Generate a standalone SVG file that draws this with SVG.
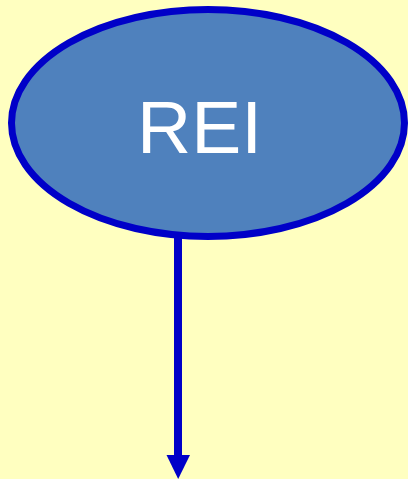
<svg xmlns="http://www.w3.org/2000/svg" width="408" height="479" viewBox="0 0 408 479">
<style>
.node{fill:#4F81BD;stroke:#0000C8;stroke-width:7}
.lbl{fill:#FFFFFF;font-family:"Liberation Sans",Arial,sans-serif;font-size:75px;text-anchor:middle}
.edge{stroke:#0000C8;stroke-width:8;fill:none}
</style>
<defs>
<marker id="ah" markerUnits="userSpaceOnUse" markerWidth="24" markerHeight="24" refX="12" refY="0" orient="auto-start-reverse" viewBox="0 0 24 24" overflow="visible">
<polygon points="0,0 24,0 12,24" fill="#0000C8" transform="rotate(-90 12 0) translate(0 0)"/>
</marker>
</defs>
<rect width="408" height="479" fill="#FFFFC0"/>
<g id="connectors">
<line class="edge" x1="178" y1="236" x2="178" y2="456"/>
<polygon points="166.5,455 190,455 178.2,479" fill="#0000C8"/>
</g>
<g id="node-rei">
<ellipse class="node" cx="208" cy="123" rx="196.5" ry="113.5"/>
<text class="lbl" x="199.5" y="153">REI</text>
</g>
</svg>
